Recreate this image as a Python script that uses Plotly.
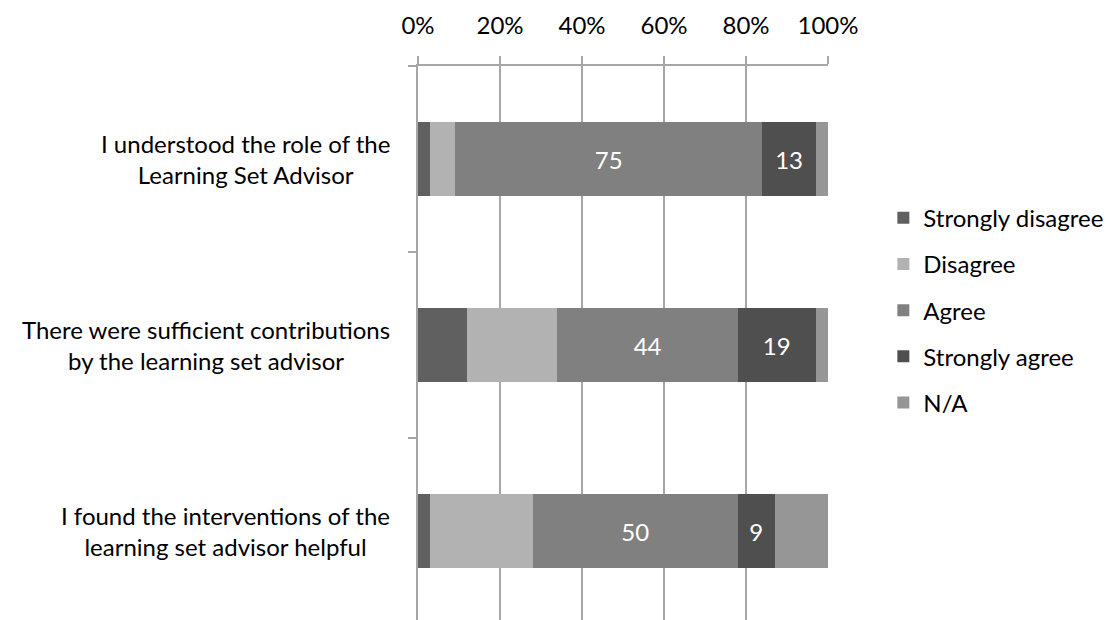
import plotly.graph_objects as go

# Survey statements (top to bottom) and response shares in percent
statements = [
    "I understood the role of the<br>Learning Set Advisor",
    "There were sufficient contributions<br>by the learning set advisor",
    "I found the interventions of the<br>learning set advisor helpful",
]
strongly_disagree = [3, 12, 3]
disagree = [6, 22, 25]
agree = [75, 44, 50]
strongly_agree = [13, 19, 9]
not_applicable = [3, 3, 13]

x_ticks = [0, 20, 40, 60, 80, 100]

series = [
    ("Strongly disagree", strongly_disagree, "#606060", False),
    ("Disagree", disagree, "#b2b2b2", False),
    ("Agree", agree, "#808080", True),
    ("Strongly agree", strongly_agree, "#4f4f4f", True),
    ("N/A", not_applicable, "#969696", False),
]

FONT = "Lato, 'Open Sans', sans-serif"
GRID = "#a6a6a6"
FS = 24

fig = go.Figure()
for name, vals, color, labelled in series:
    fig.add_trace(go.Bar(
        name=name,
        y=statements,
        x=vals,
        orientation="h",
        marker=dict(color=color, line=dict(width=0)),
        texttemplate="%{x}" if labelled else "",
        textposition="inside" if labelled else "none",
        insidetextanchor="middle",
        textangle=0,
        constraintext="none",
        textfont=dict(color="white", size=FS, family=FONT),
        legendgroup=name,
        hoverinfo="skip",
    ))

# Category labels, centred line by line, to the left of the axis
for s in statements:
    fig.add_annotation(
        x=-0.064, xref="paper", y=s, yref="y",
        text=s, showarrow=False, xanchor="right", yanchor="middle",
        align="center", font=dict(size=FS, color="black", family=FONT),
    )

fig.update_layout(
    width=1112, height=620,
    margin=dict(l=418, r=284, t=66, b=0),
    barmode="stack",
    bargap=0.6,
    plot_bgcolor="white",
    paper_bgcolor="white",
    font=dict(family=FONT, size=FS, color="black"),
    showlegend=True,
    legend=dict(
        x=1.135, xanchor="left", y=0.766, yanchor="top",
        tracegroupgap=12, traceorder="grouped",
        font=dict(size=FS, family=FONT, color="black"),
        bgcolor="rgba(0,0,0,0)",
    ),
    xaxis=dict(
        side="top", range=[0, 100],
        tickvals=x_ticks, ticktext=[f"{v}%" for v in x_ticks],
        showgrid=True, gridcolor=GRID, gridwidth=1.5,
        showline=True, linecolor=GRID, linewidth=1.5,
        ticks="outside", ticklen=8, tickcolor=GRID, tickwidth=1.5,
        ticklabelstandoff=13,
        zeroline=False, fixedrange=True,
        tickfont=dict(size=FS, family=FONT, color="black"),
    ),
    yaxis=dict(
        type="category", categoryorder="array", categoryarray=statements,
        range=[2.478, -0.5],
        tickson="boundaries", ticks="outside", ticklen=8,
        tickcolor=GRID, tickwidth=1.5,
        showticklabels=False, showgrid=False,
        showline=True, linecolor=GRID, linewidth=1.5,
        zeroline=False, fixedrange=True,
    ),
)

fig.write_html("out.html")
